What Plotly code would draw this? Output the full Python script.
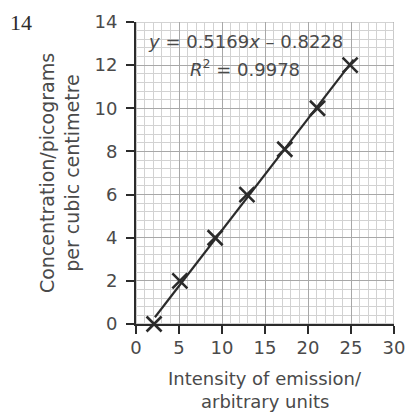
import plotly.graph_objects as go
import numpy as np

# Data
intensity = [2.1, 5.1, 9.2, 12.9, 17.3, 21.1, 24.9]
concentration = [0.0, 2.0, 4.0, 6.0, 8.1, 10.0, 12.0]
slope = 0.5169
intercept = -0.8228
fit_x_range = [2.2, 25.3]
x_ticks = [0, 5, 10, 15, 20, 25, 30]
y_ticks = [0, 2, 4, 6, 8, 10, 12, 14]
x_title_lines = ["Intensity of emission/", "arbitrary units"]
y_title = "Concentration/picograms<br>per cubic centimetre"

fit_x = np.array(fit_x_range)
fit_y = slope * fit_x + intercept

DARK = "#2b2b2b"
TXT = "#4a4a4a"
FONT = "DejaVu Sans, sans-serif"

fig = go.Figure()
fig.add_trace(go.Scatter(x=fit_x, y=fit_y, mode="lines",
                         line=dict(color=DARK, width=2.2), showlegend=False))
fig.add_trace(go.Scatter(x=intensity, y=concentration, mode="markers",
                         marker=dict(symbol="x-thin", size=15,
                                     line=dict(color=DARK, width=2.6)),
                         showlegend=False, cliponaxis=False))

fig.update_layout(
    width=408, height=414,
    margin=dict(l=136, r=14, t=22, b=90),
    paper_bgcolor="white", plot_bgcolor="white",
    font=dict(family=FONT, color=TXT, size=18),
    xaxis=dict(range=[0, 30], tickvals=x_ticks, showgrid=True, gridcolor="#a8a8a8",
               gridwidth=1.2, zeroline=False, showline=True, linecolor=DARK, linewidth=2,
               ticks="outside", ticklen=8, tickwidth=1.5, tickcolor=DARK,
               tickfont=dict(size=18, color=TXT), automargin=False, ticklabelstandoff=-2,
               minor=dict(dtick=1, showgrid=True, gridcolor="#d2d2d2", gridwidth=1)),
    yaxis=dict(range=[0, 14], tickvals=y_ticks, showgrid=True, gridcolor="#a8a8a8",
               gridwidth=1.2, zeroline=False, showline=True, linecolor=DARK, linewidth=2,
               ticks="outside", ticklen=8, tickwidth=1.5, tickcolor=DARK,
               tickfont=dict(size=18, color=TXT), automargin=False, ticklabelstandoff=5,
               minor=dict(dtick=0.4, showgrid=True, gridcolor="#d2d2d2", gridwidth=1),
               title=dict(text=y_title, font=dict(size=19, color=TXT), standoff=10)),
)

# Top/right border of grid
fig.add_shape(type="rect", xref="x", yref="y", x0=0, x1=30, y0=0, y1=14,
              line=dict(color="#a8a8a8", width=1.2), layer="below")

# x-axis title, two lines
for line_text, ypos in zip(x_title_lines, [-0.18, -0.255]):
    fig.add_annotation(xref="paper", yref="paper", x=0.5, y=ypos, xanchor="center",
                       yanchor="middle", text=line_text, showarrow=False,
                       font=dict(size=18, color=TXT))

fig.add_annotation(xref="paper", yref="paper", x=-0.495, y=1.0, xanchor="left",
                   yanchor="middle", text="14", showarrow=False,
                   font=dict(family="Liberation Serif, Times New Roman, serif", size=22, color="#2b2b2b"))
fig.add_annotation(xref="x", yref="y", x=12.7, y=13.1, text=
                   "<i>y</i> = 0.5169<i>x</i> – 0.8228", showarrow=False,
                   font=dict(size=18, color=TXT))
fig.add_annotation(xref="x", yref="y", x=12.7, y=11.85, text=
                   "<i>R</i><sup>2</sup> = 0.9978", showarrow=False,
                   font=dict(size=18, color=TXT))

fig.write_html("out.html")
